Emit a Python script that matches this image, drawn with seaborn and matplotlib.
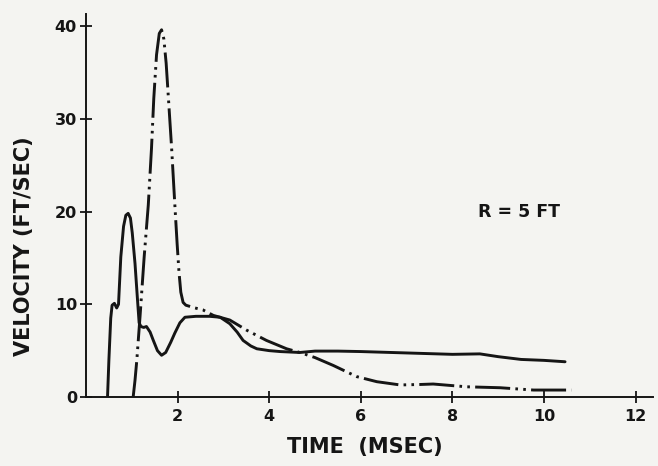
import numpy as np
import pandas as pd
import matplotlib
matplotlib.use("Agg")
import matplotlib.pyplot as plt
import seaborn as sns

# ---- data ----
solid_t = [0.47, 0.50, 0.54, 0.57, 0.62, 0.67, 0.71, 0.76, 0.82, 0.87, 0.92, 0.97,
           1.01, 1.07, 1.12, 1.16, 1.20, 1.26, 1.32, 1.40, 1.47, 1.56, 1.65, 1.74,
           1.85, 1.94, 2.05, 2.16, 2.40, 2.70, 2.93, 3.14, 3.30, 3.43, 3.60, 3.73,
           4.00, 4.24, 4.67, 5.00, 5.50, 6.00, 7.00, 8.00, 8.60, 9.00, 9.50, 10.00, 10.46]
solid_v = [0.0, 4.0, 8.5, 9.9, 10.1, 9.6, 10.0, 15.1, 18.4, 19.6, 19.8, 19.3,
           17.7, 14.4, 10.8, 8.0, 7.6, 7.5, 7.6, 7.0, 6.1, 5.0, 4.5, 4.8,
           5.9, 6.9, 8.0, 8.6, 8.7, 8.7, 8.6, 7.9, 7.0, 6.1, 5.5, 5.2,
           5.0, 4.9, 4.8, 4.95, 4.95, 4.9, 4.75, 4.6, 4.65, 4.35, 4.05, 3.95, 3.8]

dash_t = [1.03, 1.07, 1.11, 1.18, 1.27, 1.36, 1.43, 1.48, 1.54, 1.60, 1.65, 1.70,
          1.75, 1.80, 1.87, 1.94, 1.99, 2.03, 2.07, 2.12, 2.18, 2.38, 2.55, 2.78,
          3.14, 3.51, 3.94, 4.38, 4.67, 5.00, 5.40, 5.91, 6.35, 6.86, 7.30, 7.58,
          8.31, 9.04, 9.77, 10.20, 10.60]
dash_v = [0.0, 1.8, 4.0, 8.7, 15.1, 20.7, 26.8, 32.2, 36.9, 39.2, 39.6, 38.6,
          36.0, 32.2, 26.8, 20.7, 16.5, 13.5, 11.3, 10.2, 9.9, 9.6, 9.4, 8.8,
          8.3, 7.2, 6.1, 5.2, 4.8, 4.25, 3.4, 2.2, 1.65, 1.3, 1.35, 1.4,
          1.1, 1.0, 0.75, 0.75, 0.75]

x_ticks = [2, 4, 6, 8, 10, 12]
y_ticks = [0, 10, 20, 30, 40]
x_label = "TIME  (MSEC)"
y_label = "VELOCITY (FT/SEC)"
note = "R = 5 FT"

sns.set_theme(style="ticks")
plt.rcParams["font.family"] = ["DejaVu Sans"]
plt.rcParams["font.weight"] = "bold"

bg = "#f4f4f1"
ink = "#151515"

fig = plt.figure(figsize=(6.58, 4.66), dpi=100, facecolor=bg)
ax = fig.add_axes([86 / 658, (466 - 397) / 466, (653 - 86) / 658, (397 - 14) / 466])
ax.set_facecolor(bg)

df_s = pd.DataFrame({"t": solid_t, "v": solid_v})
df_d = pd.DataFrame({"t": dash_t, "v": dash_v})

sns.lineplot(data=df_s, x="t", y="v", ax=ax, color=ink, linewidth=2.1,
             sort=False, estimator=None)
sns.lineplot(data=df_d, x="t", y="v", ax=ax, color=ink, linewidth=2.1,
             sort=False, estimator=None,
             linestyle=(0, (12, 1.8, 0.9, 1.8, 0.9, 1.8)))

ax.set_xlim(0, 12.38)
ax.set_ylim(0, 41.3)
ax.set_xticks(x_ticks)
ax.set_yticks(y_ticks)
ax.set_xticklabels([str(v) for v in x_ticks], fontsize=11.5, fontweight="bold")
ax.set_yticklabels([str(v) for v in y_ticks], fontsize=11.5, fontweight="bold")
ax.tick_params(direction="inout", length=9, width=1.3, color=ink, labelcolor=ink)
ax.tick_params(axis="x", pad=4)
ax.tick_params(axis="y", pad=2)
for s in ["top", "right"]:
    ax.spines[s].set_visible(False)
for s in ["left", "bottom"]:
    ax.spines[s].set_color(ink)
    ax.spines[s].set_linewidth(1.4)
ax.set_xlabel("")
ax.set_ylabel("")

fig.text(24 / 658, (466 - 246) / 466, y_label, rotation=90, ha="center", va="center",
         fontsize=15, fontweight="bold", color=ink)
fig.text(365 / 658, (466 - 447) / 466, x_label, ha="center", va="center",
         fontsize=15, fontweight="bold", color=ink)
ax.text(8.56, 19.9, note, ha="left", va="center", fontsize=12.5,
        fontweight="bold", color=ink)

fig.savefig("out.png", dpi=100, facecolor=bg)
